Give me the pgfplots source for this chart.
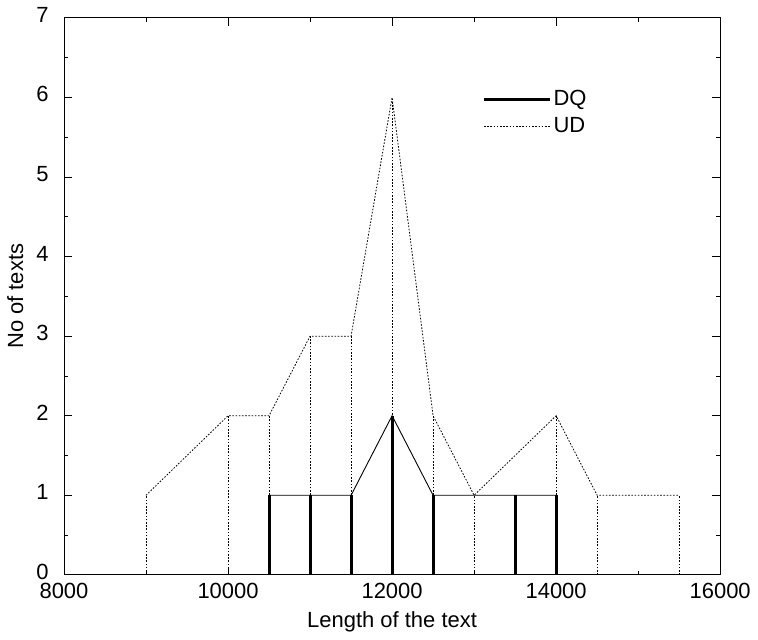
\documentclass[border=0pt]{standalone}
\usepackage{fontspec}
\setmainfont{Liberation Sans}
\usepackage{pgfplots}
\pgfplotsset{compat=1.18}
\begin{document}
\fontsize{22}{26}\selectfont
\begin{tikzpicture}
\begin{axis}[
  scale only axis, width=655bp, height=556bp,
  xmin=8000, xmax=16000, ymin=0, ymax=7,
  xtick={8000,10000,12000,14000,16000}, minor xtick={9000,11000,13000,15000},
  ytick={0,1,2,3,4,5,6,7}, minor ytick={0.5,1.5,2.5,3.5,4.5,5.5,6.5},
  tick align=inside, major tick length=8bp, minor tick length=4bp,
  tick style={black, line width=0.8bp},
  axis line style={line width=0.8bp},
  scaled x ticks=false,
  xticklabel style={/pgf/number format/1000 sep={}},
  /pgf/number format/assume math mode=true,
  tick label style={font=\fontsize{22}{26}\selectfont},
  label style={font=\fontsize{22}{26}\selectfont},
  xlabel={Length of the text}, ylabel={No of texts},
  xlabel style={yshift=2bp}, ylabel style={yshift=-2bp},
  yticklabel style={xshift=-8bp, yshift=3bp},
  xticklabel style={yshift=-1bp},
  legend style={draw=none, fill=none, at={(axis cs:13100,6.15)}, anchor=north west,
    font=\fontsize{22}{26}\selectfont, row sep=5bp, inner xsep=0pt},
  legend cell align=left,
  legend image code/.code={\path (0bp,0bp) -- (66bp,0bp);\draw[#1] (0bp,0bp) -- (57bp,0bp);},
]
% UD impulses
\addplot[ycomb, black, dash pattern={on 1.6bp off 1.6bp}, line width=0.8bp, forget plot] coordinates {
  (9000,1) (10000,2) (10500,2) (11000,3) (11500,3) (12000,6) (12500,2) (13000,1) (14000,2) (14500,1) (15500,1)};
% DQ impulses
\addplot[ycomb, black, line width=3bp, forget plot] coordinates {
  (10500,1) (11000,1) (11500,1) (12000,2) (12500,1) (13500,1) (14000,1)};
% UD line
\addplot[black, dash pattern={on 1.6bp off 1.6bp}, line width=0.8bp, forget plot] coordinates {
  (9000,1) (10000,2) (10500,2) (11000,3) (11500,3) (12000,6) (12500,2) (13000,1) (14000,2) (14500,1) (15500,1)};
% DQ line
\addplot[black, line width=0.9bp, forget plot] coordinates {
  (10500,1) (11000,1) (11500,1) (12000,2) (12500,1) (13500,1) (14000,1)};
\addlegendimage{black, line width=3bp}
\addlegendentry{DQ}
\addlegendimage{black, dash pattern={on 1.6bp off 1.6bp}, line width=0.8bp}
\addlegendentry{UD}
\end{axis}
\end{tikzpicture}
\end{document}
